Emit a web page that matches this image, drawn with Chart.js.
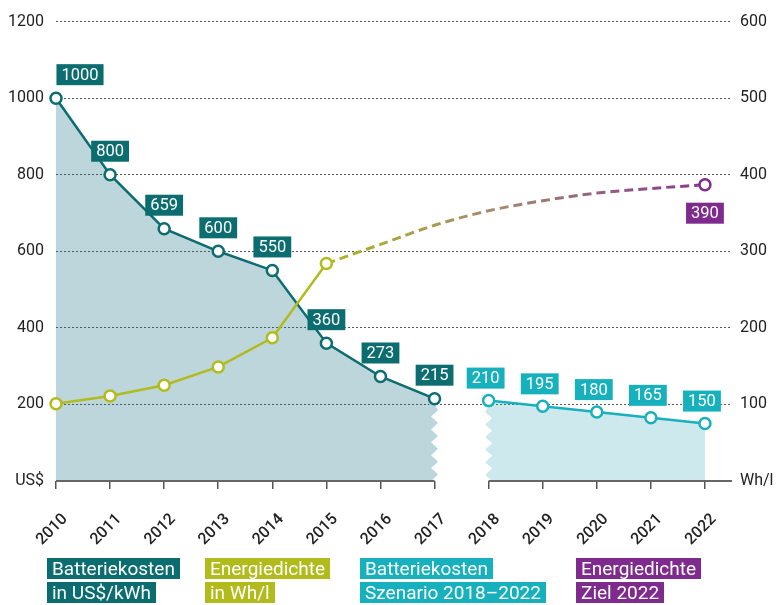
<!DOCTYPE html>
<html><head><meta charset="utf-8">
<script src="https://cdn.jsdelivr.net/npm/chart.js@4/dist/chart.umd.min.js"></script>
<style>
html,body{margin:0;padding:0;background:#fff;}
#wrap{position:relative;width:779px;height:605px;overflow:hidden;}
canvas{position:absolute;left:0;top:0;}
.leg{position:absolute;top:558px;font-family:Roboto,sans-serif;font-size:19px;color:#fff;}
.leg span{display:block;width:max-content;height:21px;line-height:22px;padding:0 5px;margin-bottom:3px;}
</style></head>
<body><div id="wrap"><canvas id="c" width="779" height="605"></canvas>
<div class="leg" style="left:47px"><span style="background:#0b6d70">Batteriekosten</span><span style="background:#0b6d70">in US$/kWh</span></div>
<div class="leg" style="left:205px"><span style="background:#b2bb1c">Energiedichte</span><span style="background:#b2bb1c">in Wh/l</span></div>
<div class="leg" style="left:360px"><span style="background:#17b0bd">Batteriekosten</span><span style="background:#17b0bd">Szenario 2018–2022</span></div>
<div class="leg" style="left:576px"><span style="background:#7e2b8d">Energiedichte</span><span style="background:#7e2b8d">Ziel 2022</span></div>
</div>
<script>
// ---- data ----
const tickYears = [2010,2011,2012,2013,2014,2015,2016,2017,2018,2019,2020,2021,2022];
const yearsHist = [2010,2011,2012,2013,2014,2015,2016,2017];
const costHist = [1000,800,659,600,550,360,273,215];
const yearsScen = [2018,2019,2020,2021,2022];
const costScen = [210,195,180,165,150];
const yearsEnergy = [2010,2011,2012,2013,2014,2015];
const energy = [101,111,125,149,187,284];
const yearsTarget = [2015,2016,2017,2018,2019,2020,2021,2022];
const energyTarget = [284,309,334,353,366,376,382,387];
const targetLabel = '390';
const leftTicks = [0,200,400,600,800,1000,1200];
const rightTicks = [0,100,200,300,400,500,600];

const TEAL='#0b6d70', OLIVE='#b2bb1c', CYAN='#17b0bd', PURPLE='#7e2b8d';
const pts = (xs, ys) => xs.map((x,i)=>({x:x, y:ys[i]}));

function zig(ctx,x0,yTop,yBot,dir,color){
  const a=3.5, n=Math.max(1,Math.round((yBot-yTop)/13)), h=(yBot-yTop)/n;
  ctx.save();
  ctx.fillStyle='#fff';
  ctx.fillRect(dir>0?x0-a:x0, yTop, a, yBot-yTop);
  ctx.beginPath();
  ctx.moveTo(x0-dir*a*1.5, yTop);
  ctx.lineTo(x0, yTop);
  for(let k=0;k<n;k++){ ctx.lineTo(x0+dir*a, yTop+(k+0.5)*h); ctx.lineTo(x0-dir*a, yTop+(k+1)*h); }
  ctx.lineTo(x0-dir*a*1.5, yBot);
  ctx.closePath(); ctx.fillStyle=color; ctx.fill(); ctx.restore();
}
function box(ctx, text, cx, yRef, bg, below){
  ctx.save();
  ctx.font='16.5px Roboto';
  const w=ctx.measureText(text).width+10, h=21;
  const x=cx-w/2, y= below? yRef : yRef-h;
  ctx.fillStyle=bg; ctx.fillRect(x,y,w,h);
  ctx.fillStyle='#fff'; ctx.textAlign='center'; ctx.textBaseline='middle';
  ctx.fillText(text,cx,y+h/2+1);
  ctx.restore();
}
const decor = {
  id:'decor',
  beforeDatasetsDraw(chart){
    const ctx=chart.ctx, bottom=chart.chartArea.bottom;
    const m0=chart.getDatasetMeta(0).data, p0=m0[m0.length-1];
    zig(ctx, p0.x, p0.y+5, bottom, 1, '#bcd6db');
    const p1=chart.getDatasetMeta(1).data[0];
    zig(ctx, p1.x, p1.y+5, bottom, -1, '#cde9ee');
  },
  afterDatasetsDraw(chart){
    const ctx=chart.ctx, xs=chart.scales.x, ca=chart.chartArea;
    ctx.save();
    ctx.strokeStyle='#666'; ctx.lineWidth=2;
    ctx.beginPath();
    ctx.moveTo(xs.getPixelForValue(yearsHist[0]), ca.bottom);
    ctx.lineTo(xs.getPixelForValue(yearsHist[yearsHist.length-1]), ca.bottom);
    ctx.moveTo(xs.getPixelForValue(yearsScen[0]), ca.bottom);
    ctx.lineTo(ca.right, ca.bottom);
    ctx.stroke();
    ctx.restore();
    chart.getDatasetMeta(0).data.forEach((p,i)=>box(ctx, String(costHist[i]), p.x+(i===0?24:0), p.y-13, TEAL, false));
    chart.getDatasetMeta(1).data.forEach((p,i)=>box(ctx, String(costScen[i]), p.x-3, p.y-12, CYAN, false));
    const mt=chart.getDatasetMeta(3).data, pt=mt[mt.length-1];
    box(ctx, targetLabel, pt.x, pt.y+18, PURPLE, true);
  }
};

const ptStyle = c => ({borderColor:c, pointBorderColor:c, pointBackgroundColor:'#fff', pointRadius:5.5, pointBorderWidth:2.5, borderWidth:2.5, pointHoverRadius:5.5, clip:false});

new Chart(document.getElementById('c'), {
  type:'line',
  data:{ datasets:[
    Object.assign({label:'Batteriekosten', data:pts(yearsHist,costHist), yAxisID:'y', fill:'origin', backgroundColor:'rgba(32,118,135,0.3)', tension:0, order:1}, ptStyle(TEAL)),
    Object.assign({label:'Szenario', data:pts(yearsScen,costScen), yAxisID:'y', fill:'origin', backgroundColor:'rgba(55,167,187,0.25)', tension:0, order:2}, ptStyle(CYAN)),
    Object.assign({label:'Energiedichte', data:pts(yearsEnergy,energy), yAxisID:'y2', fill:false, tension:0, order:0}, ptStyle(OLIVE)),
    {label:'Ziel', data:pts(yearsTarget,energyTarget), yAxisID:'y2', fill:false, order:3, clip:false,
      cubicInterpolationMode:'monotone', borderWidth:3, borderDash:[9,5],
      borderColor:(c)=>{const ch=c.chart; if(!ch.chartArea) return OLIVE; const xs=ch.scales.x;
        const g=ch.ctx.createLinearGradient(xs.getPixelForValue(yearsTarget[0]),0,xs.getPixelForValue(yearsTarget[yearsTarget.length-1]),0);
        g.addColorStop(0,'#b0b621'); g.addColorStop(0.45,'#a38a70'); g.addColorStop(1,'#86368f'); return g;},
      pointRadius: yearsTarget.map((v,i)=>i===yearsTarget.length-1?5.5:0),
      pointBorderColor:PURPLE, pointBackgroundColor:'#fff', pointBorderWidth:2.5}
  ]},
  options:{
    responsive:false, animation:false, devicePixelRatio:1,
    layout:{padding:{top:18,left:0,right:0,bottom:0}},
    plugins:{legend:{display:false}, tooltip:{enabled:false}, filler:{drawTime:'beforeDatasetsDraw'}},
    scales:{
      x:{type:'linear', min:tickYears[0], max:tickYears[tickYears.length-1]+0.5,
        afterBuildTicks:(s)=>{s.ticks=tickYears.map(v=>({value:v}));},
        afterFit:(s)=>{s.height=124;},
        grid:{drawOnChartArea:false, drawTicks:true, tickLength:8, color:'#555', lineWidth:1.5},
        border:{display:false},
        ticks:{autoSkip:false, minRotation:45, maxRotation:45, padding:21, labelOffset:9, color:'#222', font:{family:'Roboto', size:16, weight:'500'}, callback:(v)=>String(v)}
      },
      y:{position:'left', min:0, max:1200,
        afterBuildTicks:(s)=>{s.ticks=leftTicks.map(v=>({value:v}));},
        afterFit:(s)=>{s.width=56;},
        grid:{drawTicks:false, color:(c)=>c.tick && c.tick.value===0?'rgba(0,0,0,0)':'#555', lineWidth:1},
        border:{display:false, dash:[2,2]},
        ticks:{padding:12, color:'#222', font:{family:'Roboto', size:16}, callback:(v)=>v===0?'US$':String(v)}
      },
      y2:{position:'right', min:0, max:600,
        afterBuildTicks:(s)=>{s.ticks=rightTicks.map(v=>({value:v}));},
        afterFit:(s)=>{s.width=47;},
        grid:{display:false, drawTicks:false},
        border:{display:false},
        ticks:{padding:8, color:'#222', font:{family:'Roboto', size:16}, callback:(v)=>v===0?'Wh/l':String(v)}
      }
    }
  },
  plugins:[decor]
});
</script>
</body></html>
